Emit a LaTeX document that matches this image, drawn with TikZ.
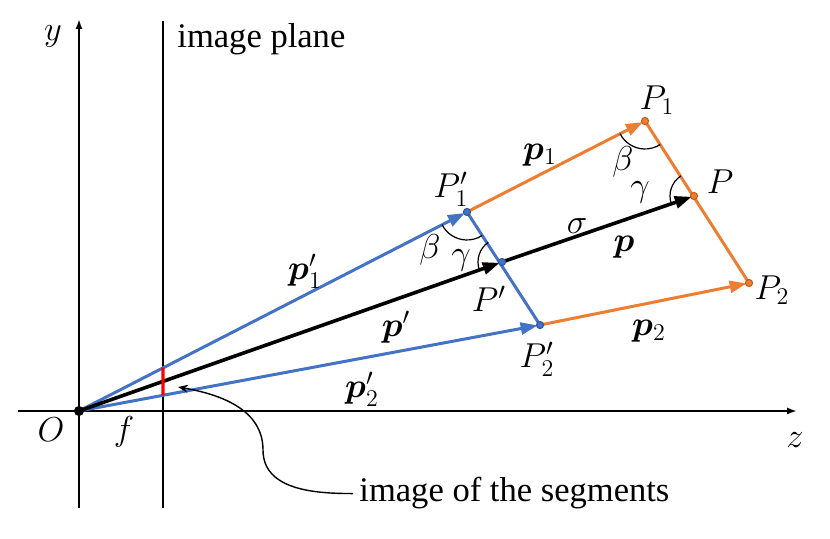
\documentclass[tikz,border=0pt]{standalone}
\usepackage{fontspec}
\setmainfont{Liberation Serif}
\usepackage{amsmath}
\usepackage{bm}
\usetikzlibrary{calc,angles,arrows.meta}
\definecolor{vecblue}{HTML}{4472C4}
\definecolor{vecorange}{HTML}{ED7D31}
\definecolor{dotblue}{HTML}{2F5597}
\definecolor{dotorange}{HTML}{C55A11}
\tikzset{
  axis/.style={line width=0.9pt,-{Latex[length=5pt,width=3.5pt]}},
  vecline/.style={line width=1.5pt,-{Triangle[length=8.5pt,width=6pt]},shorten >=1.2pt},
  segline/.style={line width=1.5pt},
  pt/.style={circle,inner sep=0pt,minimum size=3.6pt,line width=0.5pt},
  lbl/.style={inner sep=0pt},
  arcmark/.style={draw,line width=0.6pt,angle radius=#1},
  arcmark/.default=14pt
}

\begin{document}
\begin{tikzpicture}[x=0.5pt,y=0.5pt,font=\LARGE]
  \useasboundingbox (0,0) rectangle (830,539);
  \coordinate (O) at (79,128);
  \coordinate (P1) at (645,418);
  \coordinate (P) at (694,343);
  \coordinate (P2) at (749,256);
  \coordinate (P1p) at (467,327);
  \coordinate (Pp) at (502,277);
  \coordinate (P2p) at (540,214);
  \coordinate (A1) at ($(O)!0.2165!(P1p)$);
  \coordinate (A2) at ($(O)!0.1822!(P2p)$);

  \draw[axis] (79,31) -- (79,520) coordinate (ytop);
  \draw[axis] (18,128) -- (797,128) coordinate (zend);
  \draw[line width=0.9pt] (163,31) -- (163,518) coordinate (iptop);
  \node[lbl,anchor=base west] (plane) at (177,491) {image plane};
  \node[lbl] (ly) at (53,503) {$y$};
  \node[lbl] (lz) at (795,99) {$z$};
  \node[lbl] (lO) at (51,109) {$O$};
  \node[lbl] (lf) at (124,107) {$f$};

  \draw[vecline,vecblue] (O) -- (P1p);
  \draw[vecline,vecblue] (O) -- (P2p);
  \draw[vecline,vecorange] (P1p) -- (P1);
  \draw[vecline,vecorange] (P2p) -- (P2);
  \draw[segline,vecblue] (P1p) -- (P2p);
  \draw[segline,vecorange] (P1) -- (P2);
  \draw[vecline,black,line width=1.8pt] (O) -- (Pp);
  \draw[vecline,black,line width=1.8pt] (Pp) -- (P);
  \draw[red,line width=1.6pt] (A1) -- (A2);

  \pic[arcmark] {angle=O--P1p--P2p};
  \pic[arcmark] {angle=P1p--P1--P};
  \pic[arcmark=12pt] {angle=P1p--Pp--O};
  \pic[arcmark=12pt] {angle=P1--P--O};

  \node[pt,fill=black,draw=black,minimum size=4.5pt] (dO) at (O) {};
  \node[pt,fill=vecblue,draw=dotblue] (dP1p) at (P1p) {};
  \node[pt,fill=vecblue,draw=dotblue] (dPp) at (Pp) {};
  \node[pt,fill=vecblue,draw=dotblue] (dP2p) at (P2p) {};
  \node[pt,fill=vecorange,draw=dotorange] (dP1) at (P1) {};
  \node[pt,fill=vecorange,draw=dotorange] (dP) at (P) {};
  \node[pt,fill=vecorange,draw=dotorange] (dP2) at (P2) {};

  \node[lbl] (lP1) at (657,439) {$P_1$};
  \node[lbl] (lP) at (720,357) {$P$};
  \node[lbl] (lP2) at (772,249) {$P_2$};
  \node[lbl] (lbeta) at (623,377) {$\beta$};
  \node[lbl] (lgamma) at (640,347) {$\gamma$};
  \node[lbl] (lsigma) at (577,313) {$\sigma$};
  \node[lbl] (lp) at (624,292) {$\bm{p}$};
  \node[lbl] (lp1) at (540,384) {$\bm{p}_1$};
  \node[lbl] (lp2) at (649,208) {$\bm{p}_2$};
  \node[lbl] (lP1p) at (451,350) {$P_1'$};
  \node[lbl] (lbetap) at (430,289) {$\beta$};
  \node[lbl] (lgammap) at (461,279) {$\gamma$};
  \node[lbl] (lPp) at (489,240) {$P'$};
  \node[lbl] (lP2p) at (537,180) {$P_2'$};
  \node[lbl] (lp1p) at (305,268) {$\bm{p}_1'$};
  \node[lbl] (lpp) at (396,212) {$\bm{p}'$};
  \node[lbl] (lp2p) at (362,150) {$\bm{p}_2'$};

  \node[lbl,anchor=base west] (segtxt) at (359,37) {image of the segments};
  \coordinate (bend) at (263,89);
  \coordinate (segtip) at (178,152);
  \draw[line width=0.7pt,shorten <=3pt,-{Stealth[length=5pt,width=4pt]}] (segtxt.west) to[out=180,in=-90] (bend) to[out=90,in=-10] (segtip);
\end{tikzpicture}
\end{document}
